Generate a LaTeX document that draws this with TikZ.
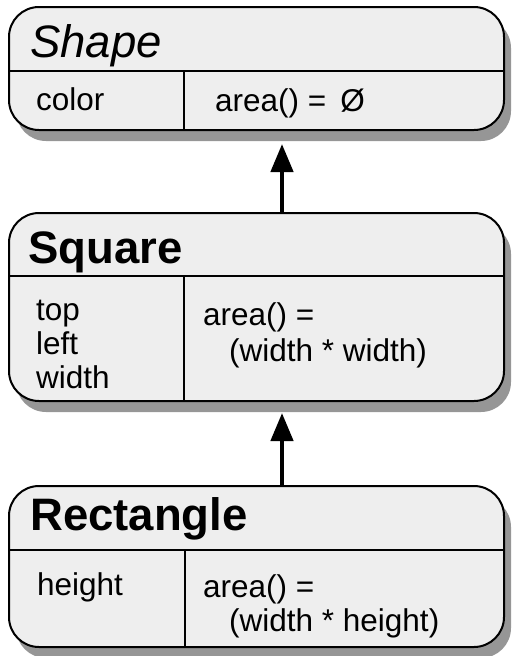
\documentclass[tikz,border=0pt]{standalone}
\usepackage{fontspec}
\setmainfont{Liberation Sans}
\usetikzlibrary{arrows.meta,shadows}
\definecolor{boxfill}{HTML}{EEEEEE}
\definecolor{shadowgray}{HTML}{969696}
\begin{document}
\begin{tikzpicture}[x=1pt,y=-1pt,
  box/.style={draw=black, line width=2pt, fill=boxfill, rounded corners=30pt,
    anchor=north west, inner sep=0pt, outer sep=0pt, minimum width=495pt,
    drop shadow={shadow xshift=7pt, shadow yshift=-11pt, fill=shadowgray, opacity=1}},
  sepline/.style={draw=black, line width=1.5pt},
  txt/.style={anchor=base west, inner sep=0pt, font=\fontsize{31.5}{34}\selectfont},
  ttlfont/.style={font=\fontsize{45.5}{48}\selectfont#1},
  ttl/.style={anchor=base west, inner sep=0pt},
  arr/.style={line width=4.5pt, -{Triangle[width=22pt,length=28pt]}}]
\useasboundingbox (0,0) rectangle (512,656);

% Shape
\node[box, minimum height=123pt] (shape) at (9,7) {};
\draw[sepline] (9,71) -- (504,71);
\draw[sepline] (184,71) -- (184,130);
\node[ttl, ttlfont=\itshape] (shapet) at (30,57) {Shape};
\node[txt] (shapea) at (36,110) {color};
\node[txt] (shapem) at (215,111) {area() = \,Ø};

% Square
\node[box, minimum height=188pt] (sq) at (9,213) {};
\draw[sepline] (9,276) -- (504,276);
\draw[sepline] (184,276) -- (184,401);
\node[ttl, ttlfont=\bfseries] (sqt) at (28,263) {Square};
\node[txt] (sqa1) at (36,320) {top};
\node[txt] (sqa2) at (36,354) {left};
\node[txt] (sqa3) at (36,388) {width};
\node[txt] (sqm1) at (203,325) {area() =};
\node[txt] (sqm2) at (229,361) {(width * width)};

% Rectangle
\node[box, minimum height=161pt] (rect) at (9,486) {};
\draw[sepline] (9,550) -- (504,550);
\draw[sepline] (185,550) -- (185,647);
\node[ttl, ttlfont=\bfseries] (rectt) at (30,530) {Rectangle};
\node[txt] (recta) at (37,595) {height};
\node[txt] (rectm1) at (203,597) {area() =};
\node[txt] (rectm2) at (229,631) {(width * height)};

% Inheritance arrows
\coordinate (t1) at (282,144);
\coordinate (t2) at (282,413);
\draw[arr] (t1 |- sq.north) -- (t1);
\draw[arr] (t2 |- rect.north) -- (t2);
\end{tikzpicture}
\end{document}
